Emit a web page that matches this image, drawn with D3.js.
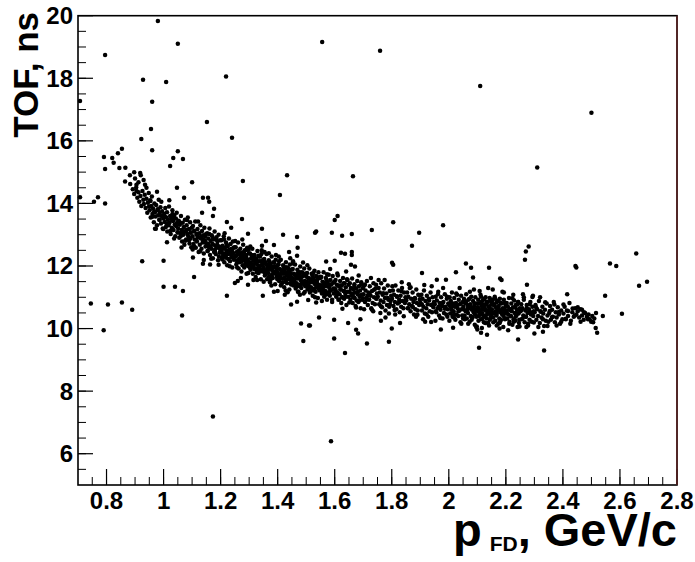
<!DOCTYPE html>
<html><head><meta charset="utf-8">
<script src="https://cdn.jsdelivr.net/npm/d3@7"></script>
<style>
body{margin:0;background:#fff}
svg{display:block}
text{font-family:"Liberation Sans",Arial,Helvetica,sans-serif;font-weight:bold;fill:#000}
</style>
</head><body>
<svg id="chart" width="695" height="562"></svg>
<script>
const xTickLabels=[0.8,1,1.2,1.4,1.6,1.8,2,2.2,2.4,2.6,2.8];
const yTickLabels=[6,8,10,12,14,16,18,20];

const outliers=[
[0.707,17.27],[0.795,18.74],[0.980,19.83],[1.050,19.10],[0.928,17.95],[1.009,17.88],[0.960,17.25],[0.956,16.38],[0.922,16.06],[0.960,15.70],[1.050,15.67],[1.068,15.42],[1.023,15.20],[1.034,15.45],[1.100,14.68],[1.047,14.50],[1.152,16.60],[1.240,16.10],[1.219,18.06],[1.556,19.16],[1.759,18.88],[2.110,17.75],[2.500,16.90],[2.310,15.15],[1.278,14.72],[1.433,14.90],[1.408,14.27],[1.664,14.87],[1.610,13.60],
[0.707,14.20],[0.756,14.05],[0.770,14.20],[0.795,14.00],[0.745,10.80],[0.805,10.77],[0.854,10.83],[0.890,10.60],[0.790,9.95],[0.925,12.15],[1.000,12.17],[1.000,11.34],[1.040,11.34],[1.068,11.20],[1.107,11.65],[1.222,11.05],[1.065,10.42],
[0.977,14.37],[1.020,14.10],[1.072,14.18],[1.138,14.18],[1.156,14.18],[1.160,14.05],[1.177,13.83],[1.173,13.60],[1.135,13.70],[1.222,13.41],[1.275,13.50],[1.237,13.22],[1.296,13.03],[1.345,13.19],[1.419,13.00],[1.468,12.93],[1.535,13.10],[1.359,12.80],[1.387,12.67],[1.345,12.65],[1.440,12.45],[1.470,12.58],[1.468,12.33],[0.970,13.19],
[1.531,13.06],[1.590,13.06],[1.626,12.97],[1.660,13.02],[1.730,13.15],[1.805,13.40],[1.600,13.47],[1.980,13.30],[1.896,13.06],[1.871,12.65],[1.622,12.42],[1.636,12.39],[1.660,12.45],[1.660,12.35],[1.570,12.14],[1.600,12.17],[1.657,12.04],[1.671,11.98],[1.801,12.10],[1.805,12.04],[2.060,12.08],[2.078,11.94],[2.141,11.94],[2.025,11.80],[2.085,11.63],[1.906,11.78],[1.958,11.56],[1.990,11.56],
[2.180,11.60],[2.185,11.55],[2.267,12.20],[2.270,12.46],[2.280,12.62],[2.274,11.40],[2.444,12.00],[2.447,11.95],[2.565,12.08],[2.587,12.00],[2.657,12.40],[2.667,11.37],[2.695,11.50],[2.548,11.05],[2.607,10.47],[2.520,9.87],[2.415,11.10],[2.467,10.60],[2.540,10.40],[2.516,10.50],[2.506,10.20],
[1.173,7.19],[1.587,6.40],[2.334,9.30],[2.243,9.65],[2.300,9.84],[2.330,9.90],[2.106,9.39],[2.134,9.80],[2.113,9.87],[2.100,9.97],[1.513,10.10],[1.545,10.35],[1.598,10.28],[1.598,9.68],[1.636,9.22],[1.675,9.96],[1.682,9.84],[1.713,9.52],[1.790,9.58],[1.800,10.00],[1.972,9.97],[1.647,10.18],[1.690,10.30],[1.762,10.25],[1.829,10.18],[1.917,10.22],[2.015,10.03],[1.482,10.16],[1.510,10.10],[1.490,9.60],[1.447,10.77],[1.468,10.86],[1.535,10.83],[1.400,11.20],[1.425,11.08],[1.296,11.40],[1.250,11.46],[1.260,11.52],[1.163,12.05],[1.138,12.07],[1.103,12.27],[1.348,11.05]
];

const leftArm=[
[0.791,15.48],[0.795,15.10],[0.820,15.45],[0.825,15.30],[0.840,15.60],[0.854,15.75],[0.845,15.13],[0.866,15.14],[0.865,14.70],[0.882,14.90],[0.897,15.00],[0.900,14.80],[0.918,14.97],[0.920,14.90],[0.905,14.60],[0.935,14.60],[0.940,14.50],[0.905,14.40],[0.930,14.75],[0.912,14.68]
];

const bandLow=[
[0.883,14.62],[0.892,14.45],[0.897,14.30],[0.904,14.51],[0.908,14.18],[0.912,14.36],[0.915,14.05],[0.919,14.24],[0.922,13.92],[0.926,14.40],[0.929,14.12],[0.931,13.98],[0.934,14.28],[0.937,13.85],[0.940,14.15],[0.943,13.70],[0.945,14.02],[0.948,14.33],[0.949,13.90],
[0.951,13.78],[0.953,14.10],[0.955,13.55],[0.957,13.92],[0.959,14.22],[0.961,13.66],[0.963,13.84],[0.966,13.40],[0.968,14.00],[0.970,13.72],[0.972,13.58],[0.974,13.95],[0.977,13.30],[0.979,13.81],[0.981,13.62],[0.983,14.12],[0.985,13.48],[0.987,13.70],[0.989,13.88],[0.991,13.36],[0.993,13.60],[0.995,13.75],[0.997,13.20],[0.999,13.52],
[1.002,13.66],[1.004,13.41],[1.006,13.85],[1.008,13.25],[1.010,13.55],[1.012,13.72],[1.013,13.10],[1.015,13.48],[1.017,13.30],[1.019,13.90],[1.021,13.38],[1.023,13.60],[1.025,13.02],[1.027,13.50],[1.029,13.22],[1.031,13.78],[1.033,13.44],[1.035,13.15],[1.037,13.62],[1.039,13.33],[1.041,12.95],[1.043,13.52],[1.045,13.28],[1.046,13.70],[1.048,13.40],[1.049,13.08],[1.011,13.35],[1.036,13.55],
[1.051,13.20],[1.053,13.45],[1.055,12.90],[1.057,13.32],[1.059,13.05],[1.061,13.60],[1.063,13.15],[1.065,12.78],[1.067,13.38],[1.069,13.00],[1.071,13.25],[1.073,12.68],[1.075,13.48],[1.077,13.10],[1.079,12.85],[1.081,13.30],[1.083,13.02],[1.085,13.55],[1.087,12.95],[1.089,13.18],[1.091,12.72],[1.093,13.40],[1.095,13.08],[1.097,12.60],[1.099,13.22],[1.060,12.95],[1.080,13.15],[1.094,12.88],
[1.101,12.95],[1.103,13.28],[1.105,12.70],[1.107,13.10],[1.109,12.85],[1.111,13.42],[1.113,12.58],[1.115,13.00],[1.117,12.78],[1.119,13.18],[1.121,12.92],[1.123,12.45],[1.125,13.05],[1.127,12.68],[1.129,13.30],[1.131,12.88],[1.133,12.55],[1.135,13.12],[1.137,12.75],[1.139,12.98],[1.141,12.40],[1.143,13.22],[1.145,12.82],[1.147,12.62],[1.149,13.02],[1.108,12.62],[1.118,13.02],[1.128,12.92],[1.138,12.85],[1.146,12.95],
[1.151,12.72],[1.153,13.05],[1.155,12.48],[1.157,12.88],[1.159,12.60],[1.161,13.20],[1.163,12.35],[1.165,12.80],[1.167,12.55],[1.169,12.98],[1.171,12.70],[1.173,12.25],[1.175,12.85],[1.177,12.45],[1.179,13.10],[1.181,12.65],[1.183,12.38],[1.185,12.92],[1.187,12.58],[1.189,12.78],[1.191,12.18],[1.193,13.00],[1.195,12.62],[1.197,12.42],[1.199,12.82],[1.156,12.70],[1.164,12.62],[1.172,12.90],[1.180,12.52],[1.188,12.68],[1.194,12.30],[1.198,12.55],
[1.201,12.50],[1.203,12.82],[1.205,12.25],[1.207,12.65],[1.209,12.38],[1.211,12.95],[1.213,12.12],[1.215,12.58],[1.217,12.32],[1.219,12.75],[1.221,12.48],[1.223,12.02],[1.225,12.62],[1.227,12.22],[1.229,12.88],[1.231,12.42],[1.233,12.15],[1.235,12.70],[1.237,12.35],[1.239,12.55],[1.241,11.95],[1.243,12.78],[1.245,12.40],[1.247,12.20],[1.249,12.60],[1.204,12.45],[1.208,12.30],[1.212,12.55],[1.216,12.40],[1.222,12.68],[1.226,12.38],[1.232,12.52],[1.238,12.28],[1.242,12.45],[1.246,12.58],[1.214,13.05],
[1.251,12.30],[1.253,12.60],[1.255,12.05],[1.257,12.45],[1.259,12.18],[1.261,12.75],[1.263,11.92],[1.265,12.38],[1.267,12.12],[1.269,12.55],[1.271,12.28],[1.273,11.82],[1.275,12.42],[1.277,12.02],[1.279,12.68],[1.281,12.22],[1.283,11.95],[1.285,12.50],[1.287,12.15],[1.289,12.35],[1.291,11.75],[1.293,12.58],[1.295,12.20],[1.297,12.00],[1.299,12.40],[1.254,12.32],[1.258,12.12],[1.262,12.48],[1.266,12.25],[1.270,12.40],[1.274,12.15],[1.278,12.32],[1.282,12.45],[1.286,12.05],[1.290,12.28],[1.294,12.10],[1.298,12.52],[1.276,12.85]
];

const bandMid=[
[1.301,12.12],[1.303,12.40],[1.305,11.88],[1.307,12.25],[1.309,12.00],[1.311,12.55],[1.313,11.75],[1.315,12.18],[1.317,11.95],[1.319,12.35],[1.321,12.08],[1.323,11.65],[1.325,12.22],[1.327,11.85],[1.329,12.48],[1.331,12.02],[1.333,11.78],[1.335,12.30],[1.337,11.98],[1.339,12.15],[1.341,11.58],[1.343,12.38],[1.345,12.02],[1.347,11.82],[1.349,12.20],[1.302,11.95],[1.306,12.10],[1.310,12.28],[1.314,12.05],[1.318,11.90],[1.322,12.25],[1.326,12.12],[1.330,11.92],[1.334,12.15],[1.338,12.30],[1.342,11.88],[1.346,12.10],[1.304,12.62],[1.328,11.55],[1.344,12.50],
[1.351,11.95],[1.353,12.22],[1.355,11.70],[1.357,12.08],[1.359,11.82],[1.361,12.38],[1.363,11.58],[1.365,12.00],[1.367,11.78],[1.369,12.18],[1.371,11.90],[1.373,11.48],[1.375,12.05],[1.377,11.68],[1.379,12.30],[1.381,11.85],[1.383,11.62],[1.385,12.12],[1.387,11.80],[1.389,11.98],[1.391,11.42],[1.393,12.20],[1.395,11.85],[1.397,11.65],[1.399,12.02],[1.352,11.88],[1.356,11.75],[1.360,12.05],[1.364,11.92],[1.368,11.65],[1.372,12.12],[1.376,11.95],[1.380,11.72],[1.384,11.95],[1.388,12.10],[1.392,11.75],[1.396,11.92],[1.354,12.45],[1.378,11.38],[1.394,12.35],
[1.401,11.78],[1.403,12.05],[1.405,11.52],[1.407,11.90],[1.409,11.65],[1.411,12.20],[1.413,11.42],[1.415,11.85],[1.417,11.60],[1.419,12.02],[1.421,11.75],[1.423,11.32],[1.425,11.88],[1.427,11.50],[1.429,12.12],[1.431,11.70],[1.433,11.45],[1.435,11.95],[1.437,11.62],[1.439,11.82],[1.441,11.25],[1.443,12.05],[1.445,11.68],[1.447,11.48],[1.449,11.88],[1.402,11.70],[1.406,11.58],[1.410,11.88],[1.414,11.75],[1.418,11.48],[1.422,11.95],[1.426,11.78],[1.430,11.55],[1.434,11.80],[1.438,11.92],[1.442,11.58],[1.446,11.75],[1.404,12.30],[1.428,11.22],[1.444,12.25],
[1.451,11.62],[1.453,11.90],[1.455,11.38],[1.457,11.75],[1.459,11.50],[1.461,12.05],[1.463,11.28],[1.465,11.70],[1.467,11.45],[1.469,11.88],[1.471,11.60],[1.473,11.18],[1.475,11.72],[1.477,11.35],[1.479,11.98],[1.481,11.55],[1.483,11.30],[1.485,11.80],[1.487,11.48],[1.489,11.68],[1.491,11.12],[1.493,11.92],[1.495,11.52],[1.497,11.35],[1.499,11.75],[1.452,11.55],[1.456,11.42],[1.460,11.72],[1.464,11.60],[1.468,11.35],[1.472,11.80],[1.476,11.62],[1.480,11.40],[1.484,11.65],[1.488,11.78],[1.492,11.42],[1.454,12.15],[1.478,11.08],
[1.501,11.50],[1.503,11.78],[1.505,11.25],[1.507,11.62],[1.509,11.38],[1.511,11.92],[1.513,11.15],[1.515,11.55],[1.517,11.32],[1.519,11.75],[1.521,11.48],[1.523,11.05],[1.525,11.60],[1.527,11.22],[1.529,11.85],[1.531,11.42],[1.533,11.18],[1.535,11.68],[1.537,11.35],[1.539,11.55],[1.541,10.98],[1.543,11.80],[1.545,11.40],[1.547,11.22],[1.549,11.62],[1.502,11.42],[1.506,11.30],[1.510,11.60],[1.514,11.48],[1.518,11.22],[1.522,11.68],[1.526,11.50],[1.530,11.28],[1.534,11.52],[1.538,11.65],[1.504,12.02],
[1.551,11.38],[1.553,11.65],[1.555,11.12],[1.557,11.50],[1.559,11.25],[1.561,11.80],[1.563,11.02],[1.565,11.45],[1.567,11.20],[1.569,11.62],[1.571,11.35],[1.573,10.92],[1.575,11.48],[1.577,11.10],[1.579,11.72],[1.581,11.30],[1.583,11.05],[1.585,11.55],[1.587,11.22],[1.589,11.42],[1.591,10.85],[1.593,11.68],[1.595,11.28],[1.597,11.12],[1.599,11.50],[1.552,11.30],[1.556,11.18],[1.560,11.48],[1.564,11.35],[1.568,11.10],[1.572,11.55],[1.576,11.38],[1.580,11.15],[1.584,11.90],
[1.601,11.28],[1.603,11.55],[1.605,11.02],[1.607,11.40],[1.609,11.15],[1.611,11.70],[1.613,10.92],[1.615,11.35],[1.617,11.10],[1.619,11.52],[1.621,11.25],[1.623,10.82],[1.625,11.38],[1.627,11.00],[1.629,11.62],[1.631,11.20],[1.633,10.95],[1.635,11.45],[1.637,11.12],[1.639,11.32],[1.641,10.75],[1.643,11.58],[1.645,11.18],[1.647,11.02],[1.649,11.40],[1.602,11.20],[1.608,11.08],[1.614,11.38],[1.620,11.25],[1.626,11.00],[1.632,11.45],[1.640,11.82],
[1.651,11.18],[1.653,11.45],[1.655,10.92],[1.657,11.30],[1.659,11.05],[1.661,11.60],[1.663,10.82],[1.665,11.25],[1.667,11.00],[1.669,11.42],[1.671,11.15],[1.673,10.72],[1.675,11.28],[1.677,10.90],[1.679,11.52],[1.681,11.10],[1.683,10.85],[1.685,11.35],[1.687,11.02],[1.689,11.22],[1.691,10.65],[1.693,11.48],[1.695,11.08],[1.697,10.92],[1.699,11.30],[1.658,11.12],[1.670,10.98],[1.684,11.70]
];

const bandHigh=[
[1.701,11.10],[1.704,11.38],[1.706,10.85],[1.708,11.22],[1.711,10.98],[1.713,11.52],[1.716,10.75],[1.718,11.15],[1.721,10.92],[1.723,11.35],[1.726,11.05],[1.728,10.65],[1.731,11.20],[1.733,10.82],[1.736,11.45],[1.738,11.00],[1.741,10.78],[1.743,11.28],[1.746,10.95],[1.748,11.12],[1.703,10.62],[1.715,11.05],[1.727,11.62],[1.735,10.55],[1.745,11.40],
[1.751,11.02],[1.754,11.30],[1.756,10.78],[1.758,11.15],[1.761,10.90],[1.763,11.45],[1.766,10.68],[1.768,11.08],[1.771,10.85],[1.773,11.28],[1.776,10.98],[1.778,10.58],[1.781,11.12],[1.783,10.75],[1.786,11.38],[1.788,10.92],[1.791,10.70],[1.793,11.20],[1.796,10.88],[1.798,11.05],[1.760,10.50],[1.775,11.55],[1.790,10.48],
[1.801,10.95],[1.804,11.22],[1.806,10.72],[1.808,11.08],[1.811,10.85],[1.813,11.38],[1.816,10.62],[1.818,11.02],[1.821,10.80],[1.823,11.22],[1.826,10.92],[1.828,10.52],[1.831,11.05],[1.833,10.70],[1.836,11.30],[1.838,10.88],[1.841,10.65],[1.843,11.15],[1.846,10.82],[1.848,11.00],[1.812,10.45],[1.835,11.48],
[1.851,10.90],[1.854,11.15],[1.856,10.65],[1.858,11.02],[1.861,10.78],[1.863,11.30],[1.866,10.55],[1.868,10.95],[1.871,10.72],[1.873,11.15],[1.876,10.85],[1.878,10.45],[1.881,10.98],[1.883,10.62],[1.886,11.25],[1.888,10.82],[1.891,10.58],[1.893,11.08],[1.896,10.75],[1.898,10.92],[1.860,11.42],[1.885,10.38],
[1.901,10.82],[1.904,11.08],[1.906,10.58],[1.908,10.95],[1.911,10.70],[1.913,11.22],[1.916,10.48],[1.918,10.88],[1.921,10.65],[1.923,11.05],[1.926,10.78],[1.928,10.38],[1.931,10.90],[1.933,10.55],[1.936,11.15],[1.938,10.75],[1.941,10.52],[1.943,11.00],[1.946,10.68],[1.948,10.85],[1.910,10.30],[1.940,11.35],
[1.951,10.78],[1.954,11.02],[1.956,10.52],[1.958,10.90],[1.961,10.65],[1.963,11.18],[1.966,10.42],[1.968,10.82],[1.971,10.60],[1.973,11.00],[1.976,10.72],[1.978,10.32],[1.981,10.85],[1.983,10.50],[1.986,11.10],[1.988,10.70],[1.991,10.45],[1.993,10.95],[1.996,10.62],[1.998,10.80],[1.953,10.25],[1.965,10.70],[1.980,11.30],[1.995,10.38],
[2.001,10.75],[2.003,11.00],[2.005,10.48],[2.007,10.88],[2.009,10.60],[2.011,11.15],[2.013,10.38],[2.015,10.80],[2.017,10.55],[2.019,10.98],[2.021,10.70],[2.023,10.28],[2.025,10.82],[2.027,10.45],[2.029,11.08],[2.031,10.65],[2.033,10.40],[2.035,10.92],[2.037,10.58],[2.039,10.78],[2.041,10.20],[2.043,11.05],[2.045,10.62],[2.047,10.42],[2.049,10.85],[2.008,10.68],[2.018,10.35],[2.028,10.72],[2.038,11.30],[2.044,10.15],
[2.051,10.70],[2.053,10.95],[2.055,10.42],[2.057,10.82],[2.059,10.55],[2.061,11.10],[2.063,10.32],[2.065,10.75],[2.067,10.50],[2.069,10.92],[2.071,10.65],[2.073,10.22],[2.075,10.78],[2.077,10.40],[2.079,11.02],[2.081,10.60],[2.083,10.35],[2.085,10.88],[2.087,10.52],[2.089,10.72],[2.091,10.12],[2.093,11.00],[2.095,10.58],[2.097,10.38],[2.099,10.80],[2.052,10.62],[2.056,10.30],[2.060,10.85],[2.064,10.58],[2.068,10.15],[2.072,10.95],[2.076,10.68],[2.080,10.28],[2.084,10.65],[2.088,11.25],[2.092,10.45],[2.096,10.05],[2.098,10.62]
];

const bandTail=[
[2.101,10.68],[2.103,10.92],[2.105,10.40],[2.107,10.80],[2.109,10.52],[2.111,11.08],[2.113,10.30],[2.115,10.72],[2.117,10.48],[2.119,10.90],[2.121,10.62],[2.123,10.20],[2.125,10.75],[2.127,10.38],[2.129,11.00],[2.131,10.58],[2.133,10.32],[2.135,10.85],[2.137,10.50],[2.139,10.70],[2.141,10.10],[2.143,10.98],[2.145,10.55],[2.147,10.35],[2.149,10.78],[2.102,10.55],[2.104,10.25],[2.106,10.62],[2.108,11.20],[2.112,10.45],[2.114,10.85],[2.116,10.02],[2.118,10.60],[2.122,10.42],[2.124,10.95],[2.126,10.65],[2.128,10.18],[2.132,10.78],[2.134,10.45],[2.138,11.30],[2.142,10.62],[2.144,10.28],[2.146,10.88],[2.148,10.50],
[2.151,10.62],[2.153,10.88],[2.155,10.35],[2.157,10.75],[2.159,10.48],[2.161,11.02],[2.163,10.25],[2.165,10.68],[2.167,10.42],[2.169,10.85],[2.171,10.58],[2.173,10.15],[2.175,10.72],[2.177,10.32],[2.179,10.95],[2.181,10.52],[2.183,10.28],[2.185,10.80],[2.187,10.45],[2.189,10.65],[2.191,10.05],[2.193,10.92],[2.195,10.50],[2.197,10.30],[2.199,10.72],[2.152,10.52],[2.156,10.20],[2.160,10.78],[2.164,10.55],[2.168,10.10],[2.172,10.88],[2.176,10.60],[2.180,10.22],[2.184,10.58],[2.188,11.18],[2.192,10.40],[2.196,10.82],[2.154,11.25],[2.178,10.00],[2.194,10.62],
[2.201,10.58],[2.203,10.82],[2.205,10.32],[2.207,10.70],[2.209,10.45],[2.211,10.98],[2.213,10.22],[2.215,10.62],[2.217,10.40],[2.219,10.80],[2.221,10.55],[2.223,10.12],[2.225,10.68],[2.227,10.30],[2.229,10.90],[2.231,10.50],[2.233,10.25],[2.235,10.75],[2.237,10.42],[2.239,10.60],[2.241,10.05],[2.243,10.85],[2.245,10.48],[2.247,10.28],[2.249,10.65],[2.204,10.48],[2.212,10.15],[2.218,10.62],[2.226,11.08],[2.234,10.38],[2.240,10.78],[2.246,10.18],
[2.251,10.55],[2.254,10.78],[2.256,10.30],[2.258,10.65],[2.261,10.42],[2.263,10.92],[2.266,10.20],[2.268,10.58],[2.271,10.38],[2.273,10.75],[2.276,10.50],[2.278,10.10],[2.281,10.62],[2.283,10.28],[2.286,10.85],[2.288,10.45],[2.291,10.22],[2.293,10.70],[2.296,10.40],[2.298,10.55],[2.260,11.10],[2.272,10.05],[2.285,10.52],[2.295,11.05],
[2.301,10.52],[2.304,10.75],[2.307,10.28],[2.310,10.62],[2.313,10.40],[2.316,10.88],[2.319,10.18],[2.322,10.55],[2.325,10.35],[2.328,10.70],[2.331,10.48],[2.334,10.08],[2.337,10.60],[2.340,10.25],[2.343,10.80],[2.346,10.42],[2.349,10.22],[2.320,11.00],
[2.352,10.50],[2.355,10.72],[2.358,10.28],[2.362,10.60],[2.365,10.38],[2.368,10.85],[2.372,10.20],[2.375,10.52],[2.378,10.35],[2.382,10.68],[2.386,10.45],[2.390,10.15],[2.394,10.58],[2.398,10.30],
[2.402,10.48],[2.406,10.70],[2.410,10.30],[2.414,10.58],[2.418,10.40],[2.423,10.82],[2.428,10.25],[2.433,10.52],[2.438,10.38],[2.443,10.65],[2.447,10.45],
[2.452,10.55],[2.457,10.35],[2.462,10.62],[2.467,10.42],[2.473,10.28],[2.478,10.50],[2.484,10.38],[2.490,10.45],[2.494,10.30],[2.499,10.22],[2.503,10.40],[2.515,10.02],[2.510,10.32]
];

const bandFill=[
[0.954,14.08],[0.961,13.57],[0.967,13.73],[0.973,13.19],[0.980,13.79],[0.986,13.48],[0.992,14.05],[0.999,13.18],[1.005,13.57],[1.012,12.76],[1.018,13.36],[1.024,13.13],[1.031,13.66],[1.037,12.88],[1.043,13.29],[1.050,13.07],[1.056,13.40],[1.063,12.59],[1.069,13.11],[1.076,12.81],[1.082,13.47],[1.089,12.82],[1.095,13.06],[1.102,12.53],[1.108,13.13],[1.115,12.83],[1.121,13.42],[1.128,12.47],[1.134,12.94],[1.141,12.19],[1.147,12.75],[1.154,12.48],[1.160,13.02],[1.167,12.23],[1.173,12.69],[1.180,12.47],[1.186,12.84],[1.193,12.04],[1.199,12.54],[1.206,12.21],[1.212,12.85],[1.219,12.26],[1.225,12.49],[1.232,11.99],[1.238,12.53],[1.245,12.27],[1.251,12.80],[1.258,11.95],[1.264,12.39],[1.271,11.62],[1.277,12.19],[1.284,11.99],[1.290,12.51],[1.297,11.78],
[1.303,12.01],[1.309,12.35],[1.315,11.55],[1.321,12.08],[1.327,11.79],[1.333,12.33],[1.339,11.84],[1.345,12.02],[1.351,11.50],[1.357,12.12],[1.363,11.83],[1.369,12.41],[1.375,11.56],[1.381,11.97],[1.387,11.18],[1.393,11.80],[1.399,11.58],[1.405,12.15],[1.411,11.38],[1.417,11.81],[1.423,11.62],[1.429,11.96],[1.435,11.16],[1.441,11.70],[1.447,11.41],[1.453,12.08],[1.459,11.45],[1.465,11.70],[1.471,11.18],[1.477,11.80],[1.483,11.51],[1.489,12.11],[1.495,11.17],[1.501,11.66],[1.507,10.91],[1.513,11.49],[1.519,11.23],[1.525,11.78],[1.531,11.00],[1.537,11.48],[1.543,11.28],[1.549,11.66],[1.555,10.88],[1.561,11.40],[1.567,11.08],[1.573,11.74],[1.579,11.16],[1.585,11.40],[1.591,10.92],[1.597,11.47],[1.603,11.23],[1.609,11.76],[1.615,10.93],[1.621,11.38],[1.627,10.63],[1.633,11.20],[1.639,11.02],[1.645,11.55],[1.651,10.83],[1.657,11.28],[1.663,11.08],[1.669,11.36],[1.675,10.67],[1.681,11.17],[1.687,10.90],[1.693,11.41],[1.699,10.97],
[1.706,11.41],[1.714,10.93],[1.722,11.12],[1.730,10.61],[1.738,11.24],[1.746,10.96],[1.754,11.55],[1.762,10.71],[1.770,11.13],[1.778,10.35],[1.786,10.98],[1.794,10.77],[1.802,11.35],[1.810,10.59],[1.818,11.03],[1.826,10.84],[1.834,11.19],[1.842,10.39],[1.850,10.93],[1.858,10.65],[1.866,11.32],[1.874,10.69],[1.882,10.95],[1.890,10.44],[1.898,11.05],[1.906,10.77],[1.914,11.39],[1.922,10.46],[1.930,10.95],[1.938,10.21],[1.946,10.79],[1.954,10.55],[1.962,11.10],[1.970,10.34],[1.978,10.82],[1.986,10.63],[1.994,11.02],[2.002,10.25],[2.010,10.77],[2.018,10.45],[2.026,11.12],[2.034,10.55],[2.042,10.80],[2.050,10.32],[2.058,10.87],[2.066,10.64],[2.074,11.18],[2.082,10.36],[2.090,10.81],[2.098,10.07],
[2.103,10.66],[2.108,10.49],[2.113,11.02],[2.118,10.31],[2.123,10.77],[2.128,10.58],[2.133,10.86],[2.138,10.18],[2.143,10.70],[2.148,10.43],[2.153,10.93],[2.158,10.50],[2.163,10.95],[2.168,10.48],[2.173,10.68],[2.178,10.18],[2.183,10.82],[2.188,10.55],[2.193,11.15],[2.198,10.32],[2.203,10.72],[2.208,9.95],[2.213,10.59],[2.218,10.39],[2.223,10.97],[2.228,10.22],[2.233,10.67],[2.238,10.49],[2.243,10.85],[2.248,10.07],[2.253,10.58],[2.258,10.31],[2.263,11.00],[2.268,10.38],[2.273,10.65],[2.278,10.15],[2.283,10.78],[2.288,10.51],[2.293,11.01],[2.298,10.19],[2.306,10.68],[2.314,10.05],[2.322,10.54],[2.330,10.30],[2.338,10.84],[2.346,10.08],[2.354,10.56],[2.362,10.37],[2.370,10.77],[2.378,10.10],[2.386,10.53],[2.394,10.22],[2.402,10.77],[2.410,10.31],[2.418,10.56],[2.426,10.15],[2.434,10.64],[2.442,10.42],[2.452,10.68],[2.462,10.22],[2.474,10.52],[2.488,10.30]
];

const points=[].concat(outliers,leftArm,bandLow,bandMid,bandHigh,bandTail,bandFill);

const svg=d3.select("#chart");
const x=d3.scaleLinear().domain([0.7,2.8]).range([78,677]);
const y=d3.scaleLinear().domain([5,20]).range([485,15.7]);

svg.append("rect").attr("width",695).attr("height",562).attr("fill","#fff");

const xMinor=d3.range(0.75,2.8,0.05);
const yMinor=d3.range(5.5,20,0.5);
const g=svg.append("g");
g.selectAll("line.xm").data(xMinor).join("line")
 .attr("x1",d=>x(d)).attr("x2",d=>x(d)).attr("y1",y(5)).attr("y2",y(5)-8)
 .attr("stroke","#000").attr("stroke-width",1);
g.selectAll("line.ym").data(yMinor).join("line")
 .attr("y1",d=>y(d)).attr("y2",d=>y(d)).attr("x1",x(0.7)).attr("x2",x(0.7)+8)
 .attr("stroke","#000").attr("stroke-width",1);
g.selectAll("line.xM").data(xTickLabels).join("line")
 .attr("x1",d=>x(d)).attr("x2",d=>x(d)).attr("y1",y(5)).attr("y2",y(5)-16)
 .attr("stroke","#000").attr("stroke-width",1.2);
g.selectAll("line.yM").data(yTickLabels).join("line")
 .attr("y1",d=>y(d)).attr("y2",d=>y(d)).attr("x1",x(0.7)).attr("x2",x(0.7)+15)
 .attr("stroke","#000").attr("stroke-width",1.2);

svg.selectAll("text.xl").data(xTickLabels).join("text")
 .attr("x",d=>x(d)).attr("y",509).attr("text-anchor","middle")
 .style("font-size","24px").text(d=>String(d));
svg.selectAll("text.yl").data(yTickLabels).join("text")
 .attr("x",73).attr("y",d=>y(d)+8.5).attr("text-anchor","end")
 .style("font-size","24px").text(d=>String(d));

svg.append("g").selectAll("circle").data(points).join("circle")
 .attr("cx",d=>x(d[0])).attr("cy",d=>y(d[1])).attr("r",2.25).attr("fill","#000");

svg.append("rect").attr("x",x(0.7)).attr("y",y(20)).attr("width",x(2.8)-x(0.7)).attr("height",y(5)-y(20))
 .attr("fill","none").attr("stroke","#000").attr("stroke-width",1.6);
svg.append("line").attr("x1",x(2.8)).attr("x2",x(2.8)).attr("y1",y(20)).attr("y2",y(5))
 .attr("stroke","#5a2424").attr("stroke-width",1.6);

svg.append("text").attr("transform","translate(38,12) rotate(-90)").attr("text-anchor","end")
 .style("font-size","35px").text("TOF, ns");
const xt=svg.append("text").attr("x",677).attr("y",546).attr("text-anchor","end").style("font-size","47px");
xt.append("tspan").text("p");
xt.append("tspan").attr("dx",8).attr("dy",5).style("font-size","21px").text("FD");
xt.append("tspan").attr("dy",-5).text(",");
xt.append("tspan").attr("dx",13).text("GeV/c");
</script>
</body></html>
